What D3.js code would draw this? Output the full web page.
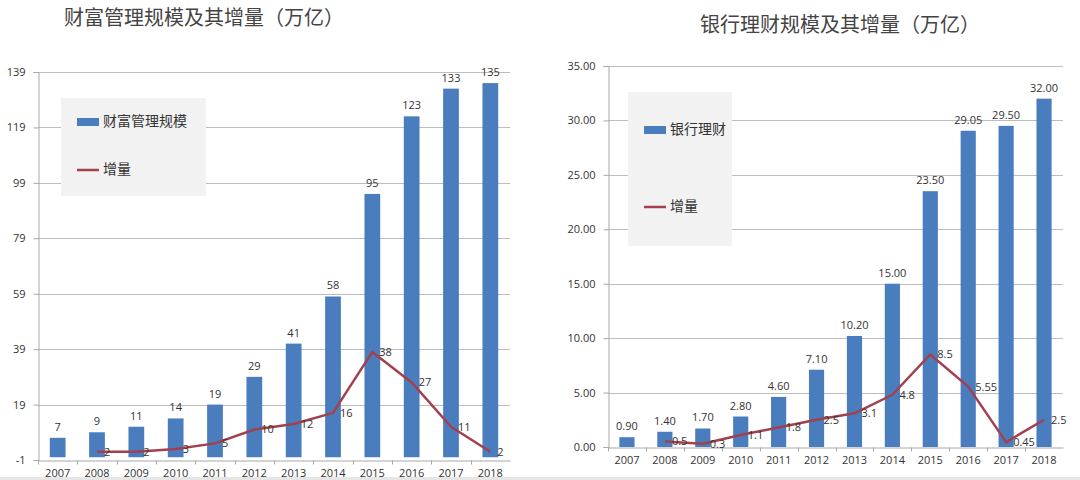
<!DOCTYPE html>
<html>
<head>
<meta charset="utf-8">
<script src="https://cdn.jsdelivr.net/npm/d3@7"></script>
<style>
  body { margin: 0; background: #fff; }
  svg { display: block; }
</style>
</head>
<body>
<svg width="1080" height="480"></svg>
<script>
const years = ['2007', '2008', '2009', '2010', '2011', '2012', '2013', '2014', '2015', '2016', '2017', '2018'];

// left: wealth management scale and increment
const wealthScale = [7, 9, 11, 14, 19, 29, 41, 58, 95, 123, 133, 135];
const wealthDelta = [null, 2, 2, 3, 5, 10, 12, 16, 38, 27, 11, 2];
const wealthTicks = [-1, 19, 39, 59, 79, 99, 119, 139];

// right: bank wealth products and increment
const bankScale = [0.90, 1.40, 1.70, 2.80, 4.60, 7.10, 10.20, 15.00, 23.50, 29.05, 29.50, 32.00];
const bankDelta = [null, 0.5, 0.3, 1.1, 1.8, 2.5, 3.1, 4.8, 8.5, 5.55, 0.45, 2.5];
const bankTicks = [0, 5, 10, 15, 20, 25, 30, 35];

const svg = d3.select('svg');
svg.selectAll('*').remove();

const barColor = '#4a7dbd';
const lineColor = '#a3404e';
const gridColor = '#bdbdbd';
const numFont = '"Open Sans", "Liberation Sans", sans-serif';
const cjkFont = '"Noto Sans CJK SC", sans-serif';

function drawChart(opt) {
    const g = svg.append('g');

    const x = d3.scaleBand()
        .domain(years)
        .range([opt.left, opt.right])
        .paddingInner(0.6)
        .paddingOuter(0.3);

    const y = d3.scaleLinear()
        .domain(opt.domain)
        .range([opt.bottom, opt.top]);

    // title
    g.append('text')
        .attr('x', opt.titleX)
        .attr('y', opt.titleY)
        .attr('font-family', cjkFont)
        .attr('font-size', 20)
        .attr('fill', '#444')
        .attr('dominant-baseline', 'middle')
        .text(opt.title);

    // gridlines
    g.append('g')
        .selectAll('line')
        .data(opt.ticks.slice(1))
        .join('line')
        .attr('x1', opt.left)
        .attr('x2', opt.right)
        .attr('y1', d => Math.round(y(d)) + 0.5)
        .attr('y2', d => Math.round(y(d)) + 0.5)
        .attr('stroke', gridColor);

    // y axis
    const yAxis = d3.axisLeft(y)
        .tickValues(opt.ticks)
        .tickFormat(opt.tickFormat)
        .tickSize(5)
        .tickPadding(8);
    const ya = g.append('g')
        .attr('transform', `translate(${opt.left + 0.5},0)`)
        .call(yAxis);
    ya.selectAll('path, line').attr('stroke', '#a8a8a8');
    ya.selectAll('text')
        .attr('font-family', numFont)
        .attr('font-size', 11)
        .attr('fill', '#333');

    // x axis
    const xAxis = d3.axisBottom(x).tickSize(0).tickPadding(9);
    const xa = g.append('g')
        .attr('transform', `translate(0,${Math.round(opt.bottom) + 0.5})`)
        .call(xAxis);
    xa.select('path').attr('stroke', '#a8a8a8');
    xa.selectAll('text')
        .attr('font-family', numFont)
        .attr('font-size', 11)
        .attr('fill', '#333');
    // small ticks between categories
    xa.append('g')
        .selectAll('line')
        .data(years)
        .join('line')
        .attr('x1', d => Math.round(x(d) - x.step() * x.paddingInner() / 2) + 0.5)
        .attr('x2', d => Math.round(x(d) - x.step() * x.paddingInner() / 2) + 0.5)
        .attr('y1', 0)
        .attr('y2', 4)
        .attr('stroke', '#a8a8a8');

    // bars
    g.append('g')
        .selectAll('rect')
        .data(opt.bars)
        .join('rect')
        .attr('x', (d, i) => x(years[i]))
        .attr('width', x.bandwidth())
        .attr('y', d => y(d))
        .attr('height', d => y(0) - y(d))
        .attr('fill', barColor);

    g.append('g')
        .selectAll('text')
        .data(opt.bars)
        .join('text')
        .attr('x', (d, i) => x(years[i]) + x.bandwidth() / 2)
        .attr('y', d => y(d) - 7)
        .attr('text-anchor', 'middle')
        .attr('font-family', numFont)
        .attr('font-size', 11)
        .attr('fill', '#333')
        .text(opt.barFormat);

    // increment line
    const pts = opt.line
        .map((v, i) => ({year: years[i], v}))
        .filter(d => d.v !== null);

    const line = d3.line()
        .x(d => x(d.year) + x.bandwidth() / 2)
        .y(d => y(d.v));

    g.append('path')
        .attr('d', line(pts))
        .attr('fill', 'none')
        .attr('stroke', lineColor)
        .attr('stroke-width', 2.5)
        .attr('stroke-linejoin', 'round');

    g.append('g')
        .selectAll('text')
        .data(pts)
        .join('text')
        .attr('x', d => x(d.year) + x.bandwidth() / 2 + 7)
        .attr('y', d => y(d.v) + 1)
        .attr('font-family', numFont)
        .attr('font-size', 11)
        .attr('fill', '#333')
        .attr('dominant-baseline', 'middle')
        .text(d => d.v);

    // legend
    const lg = g.append('g').attr('transform', `translate(${opt.legend.x},${opt.legend.y})`);
    lg.append('rect')
        .attr('width', opt.legend.w)
        .attr('height', opt.legend.h)
        .attr('fill', '#f2f2f3');
    lg.append('rect')
        .attr('x', 16)
        .attr('y', opt.legend.row1 - 4)
        .attr('width', 22)
        .attr('height', 8)
        .attr('fill', barColor);
    lg.append('text')
        .attr('x', 42)
        .attr('y', opt.legend.row1)
        .attr('dominant-baseline', 'middle')
        .attr('font-family', cjkFont)
        .attr('font-size', 14)
        .attr('fill', '#333')
        .text(opt.legendLabel);
    lg.append('line')
        .attr('x1', 16)
        .attr('x2', 38)
        .attr('y1', opt.legend.row2)
        .attr('y2', opt.legend.row2)
        .attr('stroke', lineColor)
        .attr('stroke-width', 2.5);
    lg.append('text')
        .attr('x', 42)
        .attr('y', opt.legend.row2)
        .attr('dominant-baseline', 'middle')
        .attr('font-family', cjkFont)
        .attr('font-size', 14)
        .attr('fill', '#333')
        .text('增量');
}

drawChart({
    title: '财富管理规模及其增量（万亿）',
    titleX: 64,
    titleY: 20,
    left: 38,
    right: 510,
    top: 72,
    bottom: 460,
    domain: [-1, 139],
    ticks: wealthTicks,
    tickFormat: d => String(d),
    bars: wealthScale,
    barFormat: d => d,
    line: wealthDelta,
    legendLabel: '财富管理规模',
    legend: {x: 61, y: 98, w: 145, h: 98, row1: 24, row2: 72}
});

drawChart({
    title: '银行理财规模及其增量（万亿）',
    titleX: 700,
    titleY: 27,
    left: 608,
    right: 1063,
    top: 66,
    bottom: 447,
    domain: [0, 35],
    ticks: bankTicks,
    tickFormat: d3.format('.2f'),
    bars: bankScale,
    barFormat: d3.format('.2f'),
    line: bankDelta,
    legendLabel: '银行理财',
    legend: {x: 628, y: 92, w: 104, h: 154, row1: 38, row2: 115}
});

// faint strip along the bottom edge
svg.append('rect')
    .attr('x', 0)
    .attr('y', 477)
    .attr('width', 1080)
    .attr('height', 3)
    .attr('fill', '#e6e6e6');
</script>
</body>
</html>
